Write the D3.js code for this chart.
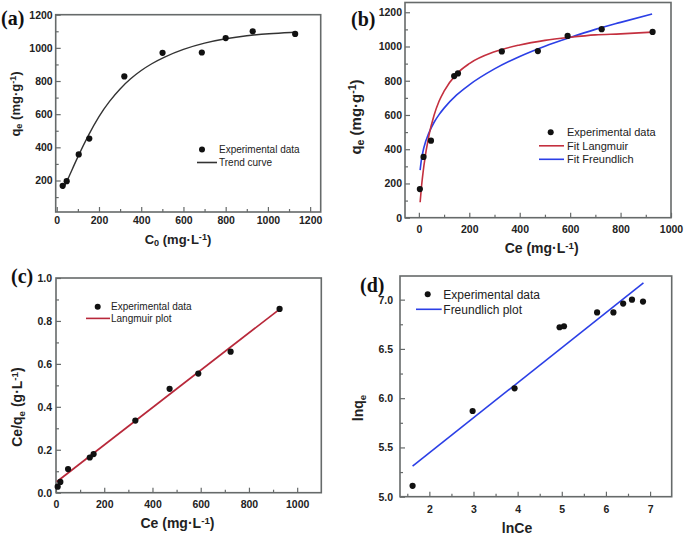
<!DOCTYPE html>
<html><head><meta charset="utf-8">
<script src="https://cdn.jsdelivr.net/npm/d3@7"></script>
<style>
body{margin:0;background:#fff}
svg{display:block}
</style>
</head><body>
<svg id="chart" width="685" height="535"></svg>
<script>
// ---------- data ----------
// (a) qe vs C0
const aC0 = [28, 47, 104, 154, 320, 501, 687, 800, 928, 1129];
const aQe = [168, 196, 357, 453, 828, 970, 972, 1059, 1100, 1084];
const aTrendX = [30, 50, 100, 150, 200, 250, 300, 350, 400, 450, 500, 600, 700, 800, 900, 1000, 1130];
const aTrendY = [150, 200, 345, 475, 590, 680, 755, 815, 865, 905, 940, 993, 1030, 1056, 1074, 1086, 1094];
// (b) qe vs Ce
const bCe = [4, 18.5, 48, 140, 155, 329, 472, 590, 725, 927];
const bQe = [167, 355, 450, 827, 843, 971, 973, 1062, 1101, 1085];
const bFitX = [5, 10, 20, 40, 60, 80, 100, 150, 200, 300, 400, 500, 600, 700, 800, 925];
const bLangY = [90, 175, 304, 481, 597, 680, 739, 840, 900, 969, 1009, 1036, 1054, 1068, 1074, 1084];
const bFreuY = [278, 338, 410, 496, 556, 602, 640, 717, 776, 869, 942, 1002, 1053, 1100, 1141, 1190];
// (c) Ce/qe vs Ce
const cCe = [7, 18, 50, 140, 156, 329, 471, 590, 724, 927];
const cRatio = [0.028, 0.05, 0.11, 0.164, 0.18, 0.336, 0.484, 0.555, 0.657, 0.856];
const cLineX = [3, 925];
const cLineY = [0.051, 0.853];
// (d) lnqe vs lnCe
const dLnCe = [1.62, 2.98, 3.93, 4.95, 5.05, 5.80, 6.17, 6.39, 6.59, 6.84];
const dLnQe = [5.11, 5.87, 6.10, 6.72, 6.73, 6.87, 6.87, 6.96, 7.00, 6.98];
const dLineX = [1.62, 6.85];
const dLineY = [5.31, 7.17];

// tick values
const aXTicks = [0, 200, 400, 600, 800, 1000, 1200];
const aYTicks = [200, 400, 600, 800, 1000, 1200];
const bXTicks = [0, 200, 400, 600, 800, 1000];
const bYTicks = [0, 200, 400, 600, 800, 1000, 1200];
const cXTicks = [0, 200, 400, 600, 800, 1000];
const cYTicks = [0, 0.2, 0.4, 0.6, 0.8, 1.0];
const dXTicks = [2, 3, 4, 5, 6, 7];
const dYTicks = [5.0, 5.5, 6.0, 6.5, 7.0];

// ---------- drawing ----------
const svg = d3.select("#chart");
const SANS = "'Liberation Sans', Arial, sans-serif";
const SERIF = "'Liberation Serif', 'Times New Roman', serif";
const FRAME = "#666a6a";
const RED = "#c4303f";
const BLUE = "#2b3fe6";

function panel(p) {
  const g = svg.append("g");
  const x = d3.scaleLinear().domain(p.xd).range([p.l, p.r]);
  const y = d3.scaleLinear().domain(p.yd).range([p.b, p.t]);

  // minor ticks
  const mx = g.append("g").attr("transform", `translate(0,${p.b})`)
    .call(d3.axisBottom(x).tickValues(p.xMinor).tickSize(-3).tickFormat(""));
  const my = g.append("g").attr("transform", `translate(${p.l},0)`)
    .call(d3.axisLeft(y).tickValues(p.yMinor).tickSize(-3).tickFormat(""));
  // major ticks
  const ax = g.append("g").attr("transform", `translate(0,${p.b})`)
    .call(d3.axisBottom(x).tickValues(p.xTicks).tickSize(-5).tickPadding(p.xPad).tickFormat(p.xFmt));
  const ay = g.append("g").attr("transform", `translate(${p.l},0)`)
    .call(d3.axisLeft(y).tickValues(p.yTicks).tickSize(-5).tickPadding(p.yPad).tickFormat(p.yFmt));
  [mx, my, ax, ay].forEach(s => {
    s.select(".domain").remove();
    s.selectAll(".tick line").attr("stroke", FRAME).attr("stroke-width", 1.2);
  });
  [ax, ay].forEach(s => s.selectAll(".tick text")
    .style("font-family", SANS)
    .attr("font-weight", "bold").attr("font-size", p.tickFs).attr("fill", "#222"));

  // frame
  g.append("rect").attr("x", p.l).attr("y", p.t)
    .attr("width", p.r - p.l).attr("height", p.b - p.t)
    .attr("fill", "none").attr("stroke", FRAME).attr("stroke-width", 1.6);

  // lines
  p.lines.forEach(L => {
    const pts = L.xs.map((v, i) => [v, L.ys[i]]);
    const line = d3.line().x(d => x(d[0])).y(d => y(d[1])).curve(L.curve || d3.curveLinear);
    g.append("path").datum(pts).attr("d", line)
      .attr("fill", "none").attr("stroke", L.color).attr("stroke-width", L.w || 1.5);
  });
  // points
  g.selectAll(null).data(p.px.map((v, i) => [v, p.py[i]])).enter()
    .append("circle").attr("cx", d => x(d[0])).attr("cy", d => y(d[1]))
    .attr("r", 3.1).attr("fill", "#111");

  // legend
  const lg = p.legend;
  lg.items.forEach((it, i) => {
    const yy = lg.y + i * lg.dy;
    if (it.type === "dot") {
      g.append("circle").attr("cx", lg.dotX).attr("cy", yy).attr("r", 3).attr("fill", "#111");
    } else {
      g.append("line").attr("x1", lg.lineX1).attr("x2", lg.lineX2).attr("y1", yy).attr("y2", yy)
        .attr("stroke", it.color).attr("stroke-width", 1.6);
    }
    g.append("text").attr("x", lg.textX).attr("y", yy).attr("dy", "0.35em")
      .style("font-family", SANS)
      .attr("font-size", lg.fs).attr("fill", "#222").text(it.label);
  });

  // axis titles
  const xt = g.append("text").attr("x", p.xTitle.x).attr("y", p.xTitle.y)
    .style("font-family", SANS)
    .attr("text-anchor", "middle").attr("font-weight", "bold")
    .attr("font-size", p.xTitle.fs).attr("fill", "#222");
  buildRich(xt, p.xTitle.parts, p.xTitle.fs);
  const yt = g.append("text")
    .attr("transform", `translate(${p.yTitle.x},${p.yTitle.y}) rotate(-90)`)
    .style("font-family", SANS)
    .attr("text-anchor", "middle").attr("font-weight", "bold")
    .attr("font-size", p.yTitle.fs).attr("fill", "#222");
  buildRich(yt, p.yTitle.parts, p.yTitle.fs);

  // panel label
  g.append("text").attr("x", p.label.x).attr("y", p.label.y)
    .style("font-family", SERIF)
    .attr("font-weight", "bold").attr("font-size", 20).attr("fill", "#111")
    .text(p.label.t);
}

function buildRich(t, parts, fs) {
  parts.forEach(pt => {
    const s = t.append("tspan").text(pt[0]);
    if (pt[1] === "sub") s.attr("font-size", fs * 0.7).attr("baseline-shift", "-25%");
    if (pt[1] === "sup") s.attr("font-size", fs * 0.7).attr("baseline-shift", "45%");
  });
}

const range = (a, b, s) => d3.range(a, b + s / 2, s);

// (a)
panel({
  l: 55.7, r: 320.7, t: 14.7, b: 212, xd: [-5, 1250], yd: [10, 1200],
  xTicks: aXTicks, yTicks: aYTicks,
  xMinor: range(100, 1100, 200), yMinor: range(100, 1100, 200),
  xFmt: d3.format("d"), yFmt: d3.format("d"), xPad: 5, yPad: 3, tickFs: 10.5,
  px: aC0, py: aQe,
  lines: [{ xs: aTrendX, ys: aTrendY, color: "#333", w: 1.4, curve: d3.curveBasis }],
  legend: { y: 149.5, dy: 13, dotX: 202, lineX1: 197, lineX2: 217, textX: 219, fs: 10,
    items: [{ type: "dot", label: "Experimental data" }, { type: "line", color: "#333", label: "Trend curve" }] },
  xTitle: { x: 178, y: 244, fs: 13, parts: [["C"], ["0", "sub"], [" (mg·L"], ["-1", "sup"], [")"]] },
  yTitle: { x: 20, y: 104, fs: 13, parts: [["q"], ["e", "sub"], [" (mg·g"], ["-1", "sup"], [")"]] },
  label: { x: 1, y: 25, t: "(a)" }
});

// (b)
panel({
  l: 405, r: 671, t: 2.5, b: 217.7, xd: [-55, 1000], yd: [0, 1257],
  xTicks: bXTicks, yTicks: bYTicks,
  xMinor: range(100, 900, 200), yMinor: range(100, 1100, 200),
  xFmt: d3.format("d"), yFmt: d3.format("d"), xPad: 8, yPad: 3, tickFs: 10.5,
  px: bCe, py: bQe,
  lines: [
    { xs: bFitX, ys: bFreuY, color: BLUE, w: 1.6, curve: d3.curveMonotoneX },
    { xs: bFitX, ys: bLangY, color: RED, w: 1.6, curve: d3.curveMonotoneX }
  ],
  legend: { y: 132.3, dy: 13.5, dotX: 550.7, lineX1: 539, lineX2: 564, textX: 567, fs: 11,
    items: [{ type: "dot", label: "Experimental data" },
            { type: "line", color: RED, label: "Fit Langmuir" },
            { type: "line", color: BLUE, label: "Fit Freundlich" }] },
  xTitle: { x: 541.7, y: 253, fs: 14, parts: [["Ce (mg·L"], ["-1", "sup"], [")"]] },
  yTitle: { x: 361, y: 117, fs: 15, parts: [["q"], ["e", "sub"], [" (mg·g"], ["-1", "sup"], [")"]] },
  label: { x: 351, y: 26, t: "(b)" }
});

// (c)
panel({
  l: 56, r: 321.3, t: 278, b: 492.7, xd: [0, 1100], yd: [0, 1],
  xTicks: cXTicks, yTicks: cYTicks,
  xMinor: range(100, 900, 200), yMinor: range(0.1, 0.9, 0.2),
  xFmt: d3.format("d"), yFmt: d3.format(".1f"), xPad: 8, yPad: 4, tickFs: 10.5,
  px: cCe, py: cRatio,
  lines: [{ xs: cLineX, ys: cLineY, color: "#b8283a", w: 1.7 }],
  legend: { y: 306.7, dy: 11.7, dotX: 97.7, lineX1: 86, lineX2: 110, textX: 111, fs: 10,
    items: [{ type: "dot", label: "Experimental data" }, { type: "line", color: "#b8283a", label: "Langmuir plot" }] },
  xTitle: { x: 177.5, y: 528, fs: 14, parts: [["Ce (mg·L"], ["-1", "sup"], [")"]] },
  yTitle: { x: 22, y: 407, fs: 14, parts: [["Ce/q"], ["e", "sub"], [" (g·L"], ["-1", "sup"], [")"]] },
  label: { x: 11, y: 283, t: "(c)" }
});

// (d)
panel({
  l: 400, r: 671.7, t: 276, b: 496.7, xd: [1.335, 7.49], yd: [5, 7.24],
  xTicks: dXTicks, yTicks: dYTicks,
  xMinor: range(1.5, 6.5, 1), yMinor: range(5.25, 6.75, 0.5),
  xFmt: d3.format("d"), yFmt: d3.format(".1f"), xPad: 9, yPad: 7, tickFs: 10.5,
  px: dLnCe, py: dLnQe,
  lines: [{ xs: dLineX, ys: dLineY, color: BLUE, w: 1.6 }],
  legend: { y: 294.3, dy: 15, dotX: 427.7, lineX1: 416, lineX2: 441.7, textX: 443.3, fs: 12,
    items: [{ type: "dot", label: "Experimental data" }, { type: "line", color: BLUE, label: "Freundlich plot" }] },
  xTitle: { x: 517, y: 533, fs: 14, parts: [["lnCe"]] },
  yTitle: { x: 363, y: 408, fs: 14, parts: [["lnq"], ["e", "sub"]] },
  label: { x: 360, y: 292, t: "(d)" }
});
</script>
</body></html>
